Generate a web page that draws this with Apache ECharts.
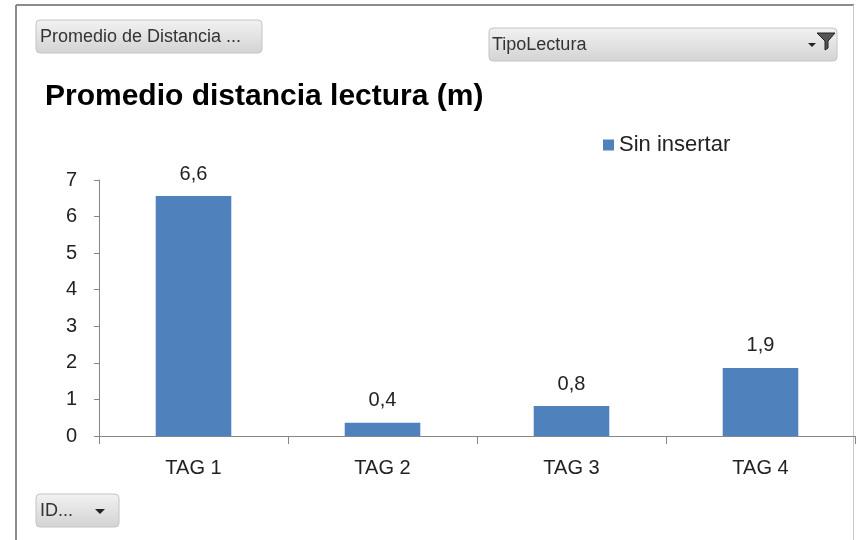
<!DOCTYPE html>
<html>
<head>
<meta charset="utf-8">
<script src="https://cdn.jsdelivr.net/npm/echarts@6/dist/echarts.min.js"></script>
<style>
  html, body { margin: 0; padding: 0; background: #ffffff; }
  #chart { width: 856px; height: 540px; }
</style>
</head>
<body>
<div id="chart"></div>
<script>
var categories = ["TAG 1", "TAG 2", "TAG 3", "TAG 4"];
var sinInsertar = [6.56, 0.36, 0.82, 1.86];
var yTicks = [0, 1, 2, 3, 4, 5, 6, 7];

var FONT = "'Liberation Sans', Arial, sans-serif";
var btnFill = new echarts.graphic.LinearGradient(0, 0, 0, 1, [
  { offset: 0, color: "#f2f2f2" },
  { offset: 1, color: "#d3d3d3" }
]);

var chart = echarts.init(document.getElementById("chart"));

var option = {
  animation: false,
  textStyle: { fontFamily: FONT },
  grid: { left: 99, right: 1, top: 180, bottom: 104 },
  title: {
    text: "Promedio distancia lectura (m)",
    left: 40,
    top: 77,
    textStyle: { fontSize: 30, fontWeight: "bold", color: "#000", fontFamily: FONT }
  },
  legend: {
    data: ["Sin insertar"],
    left: 598,
    top: 129,
    itemWidth: 11,
    itemHeight: 11,
    icon: "rect",
    itemGap: 6,
    textStyle: { fontSize: 22, color: "#222", fontFamily: FONT }
  },
  xAxis: {
    type: "category",
    data: categories,
    axisLine: { lineStyle: { color: "#868686", width: 1 } },
    axisTick: { show: true, length: 8, lineStyle: { color: "#868686" } },
    axisLabel: { fontSize: 20, color: "#222", margin: 22 }
  },
  yAxis: {
    type: "value",
    min: 0,
    max: yTicks[yTicks.length - 1],
    interval: 1,
    axisLine: { show: true, lineStyle: { color: "#868686" } },
    axisTick: { show: true, length: 5, lineStyle: { color: "#868686" } },
    splitLine: { show: false },
    axisLabel: { fontSize: 20, color: "#222", margin: 22 }
  },
  series: [
    {
      name: "Sin insertar",
      type: "bar",
      data: sinInsertar,
      barWidth: "40%",
      itemStyle: { color: "#4f81bd" },
      label: {
        show: true,
        position: "top",
        distance: 12,
        fontSize: 20,
        color: "#222",
        formatter: function (p) {
          return p.value.toFixed(1).replace(".", ",");
        }
      }
    }
  ],
  graphic: [
    // frame
    { type: "line", shape: { x1: 16, y1: 5, x2: 16, y2: 540 }, style: { stroke: "#8c8c8c", lineWidth: 2 } },
    { type: "line", shape: { x1: 16, y1: 5, x2: 854, y2: 5 }, style: { stroke: "#8c8c8c", lineWidth: 2 } },
    { type: "line", shape: { x1: 853.5, y1: 5, x2: 853.5, y2: 540 }, style: { stroke: "#c8c8c8", lineWidth: 1 } },
    // field buttons
    {
      type: "group",
      children: [
        { type: "rect", shape: { x: 36, y: 20, width: 226, height: 33, r: 4 }, style: { fill: btnFill, stroke: "#c4c4c4" } },
        { type: "text", style: { x: 40, y: 37, text: "Promedio de Distancia ...", fontSize: 18, fontFamily: FONT, fill: "#333", verticalAlign: "middle" } }
      ]
    },
    {
      type: "group",
      children: [
        { type: "rect", shape: { x: 489, y: 28, width: 348, height: 33, r: 4 }, style: { fill: btnFill, stroke: "#c4c4c4" } },
        { type: "text", style: { x: 492, y: 45, text: "TipoLectura", fontSize: 18, fontFamily: FONT, fill: "#333", verticalAlign: "middle" } },
        { type: "polygon", shape: { points: [[817, 33], [835, 33], [828, 41], [828, 48], [825, 50], [825, 41]] }, style: { fill: "#555", stroke: "#222", lineWidth: 1 } },
        { type: "polygon", shape: { points: [[808, 43], [816, 43], [812, 47]] }, style: { fill: "#222" } }
      ]
    },
    {
      type: "group",
      children: [
        { type: "rect", shape: { x: 36, y: 494, width: 83, height: 33, r: 4 }, style: { fill: btnFill, stroke: "#c4c4c4" } },
        { type: "text", style: { x: 40, y: 511, text: "ID...", fontSize: 18, fontFamily: FONT, fill: "#333", verticalAlign: "middle" } },
        { type: "polygon", shape: { points: [[95, 509], [105, 509], [100, 514]] }, style: { fill: "#222" } }
      ]
    }
  ]
};

chart.setOption(option);
</script>
</body>
</html>
